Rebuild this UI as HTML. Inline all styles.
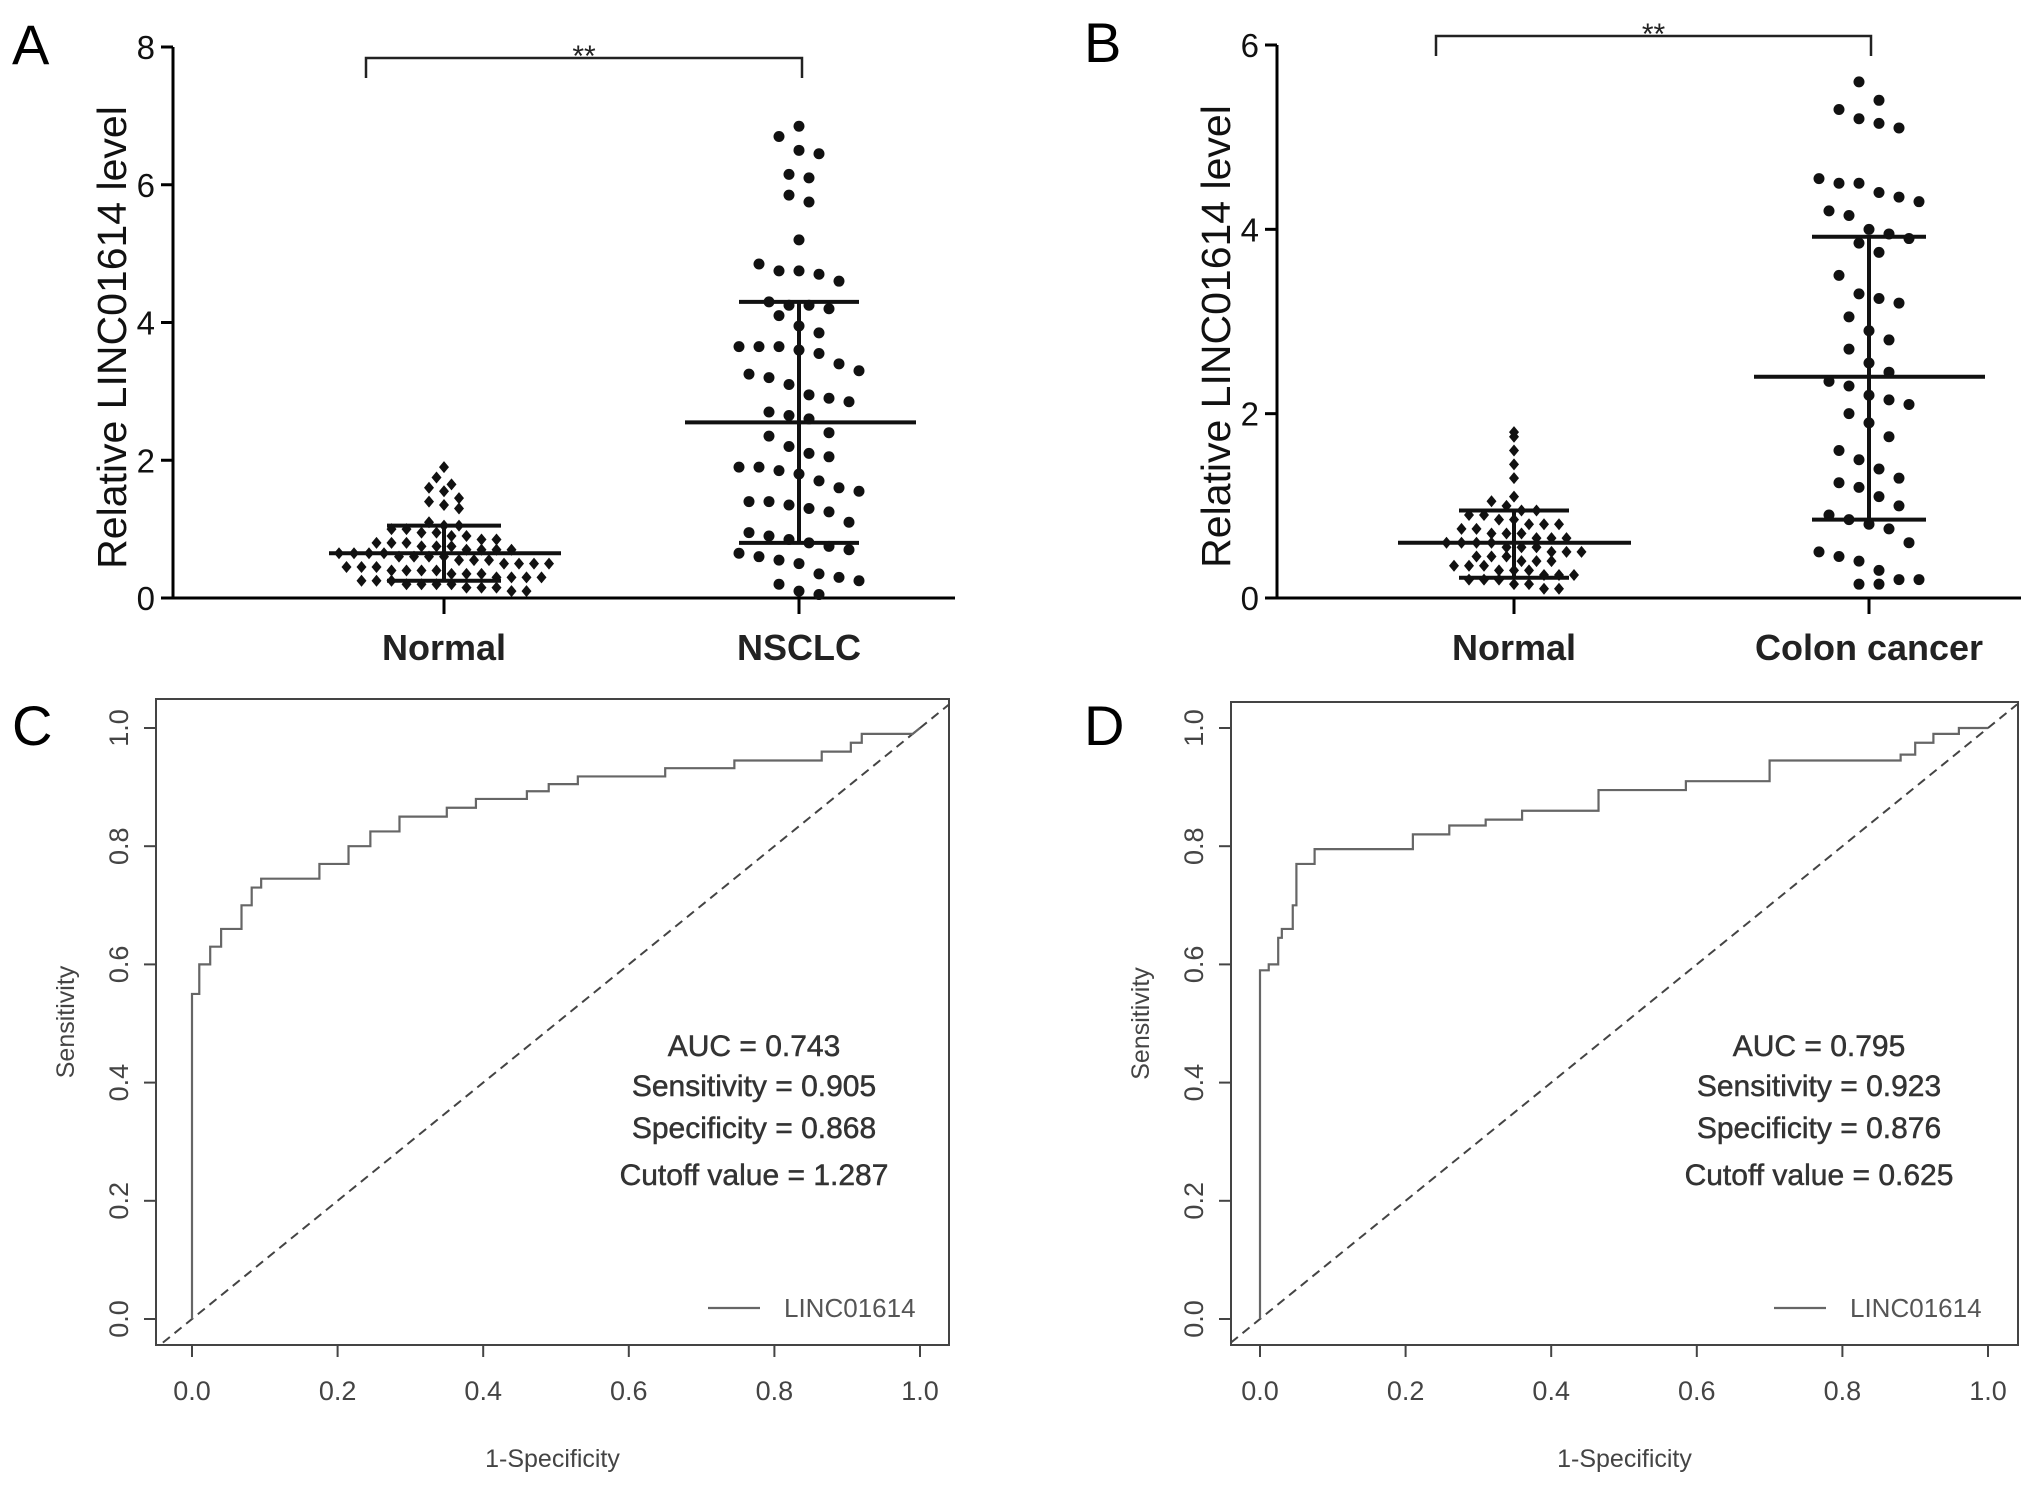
<!DOCTYPE html>
<html><head><meta charset="utf-8"><style>
body{margin:0;background:#fff}
svg{display:block;font-family:"Liberation Sans",Arial,sans-serif}
</style></head><body>
<svg id="fig" width="2031" height="1488" viewBox="0 0 2031 1488" xmlns="http://www.w3.org/2000/svg"></svg>
<script>
// ---- Data: panel A ----
const normalA = [1.9,1.75,1.65,1.6,1.55,1.45,1.4,1.35,1.3,1.1,1.05,1.05,1.0,1.0,0.95,0.95,0.9,0.9,0.85,0.85,0.8,0.8,0.8,0.75,0.75,0.75,0.7,0.7,0.7,0.7,0.65,0.65,0.65,0.65,0.6,0.6,0.6,0.6,0.55,0.55,0.55,0.5,0.5,0.5,0.5,0.45,0.45,0.45,0.4,0.4,0.4,0.4,0.35,0.35,0.35,0.3,0.3,0.3,0.3,0.25,0.25,0.25,0.2,0.2,0.2,0.2,0.15,0.15,0.15,0.1,0.1];
const nsclcA = [6.85,6.7,6.5,6.45,6.15,6.1,5.85,5.75,5.2,4.85,4.75,4.75,4.7,4.6,4.3,4.25,4.25,4.2,4.1,3.95,3.85,3.65,3.65,3.65,3.6,3.55,3.4,3.3,3.25,3.2,3.1,2.95,2.9,2.85,2.7,2.65,2.6,2.4,2.35,2.2,2.1,2.05,1.9,1.9,1.85,1.8,1.7,1.6,1.55,1.4,1.4,1.35,1.3,1.25,1.1,0.95,0.9,0.85,0.8,0.75,0.7,0.65,0.6,0.55,0.5,0.35,0.3,0.25,0.2,0.1,0.05];
const statsA = {normal:[0.65,0.25,1.05], tumor:[2.55,0.8,4.3]};
const ticksA = [0,2,4,6,8];
const groupsA = ["Normal","NSCLC"];
// ---- Data: panel B ----
const normalB = [1.8,1.75,1.6,1.45,1.3,1.1,1.05,1.0,0.95,0.95,0.9,0.9,0.85,0.85,0.8,0.8,0.8,0.75,0.75,0.7,0.7,0.7,0.65,0.65,0.65,0.6,0.6,0.6,0.6,0.55,0.55,0.55,0.5,0.5,0.5,0.45,0.45,0.45,0.4,0.4,0.4,0.35,0.35,0.35,0.3,0.3,0.3,0.25,0.25,0.25,0.2,0.2,0.2,0.15,0.15,0.1,0.1];
const colonB = [5.6,5.4,5.3,5.2,5.15,5.1,4.55,4.5,4.5,4.4,4.35,4.3,4.2,4.15,4.0,3.95,3.9,3.85,3.75,3.5,3.3,3.25,3.2,3.05,2.9,2.8,2.7,2.55,2.45,2.35,2.3,2.2,2.15,2.1,2.0,1.9,1.75,1.6,1.5,1.4,1.3,1.25,1.2,1.1,1.0,0.9,0.85,0.8,0.75,0.6,0.5,0.45,0.4,0.3,0.2,0.2,0.15,0.15];
const statsB = {normal:[0.6,0.22,0.95], tumor:[2.4,0.85,3.92]};
const ticksB = [0,2,4,6];
const groupsB = ["Normal","Colon cancer"];
// ---- Data: ROC C ----
const fprC = [0,0,0.01,0.01,0.025,0.025,0.04,0.04,0.068,0.068,0.082,0.082,0.095,0.095,0.175,0.175,0.215,0.215,0.245,0.245,0.285,0.285,0.35,0.35,0.39,0.39,0.46,0.46,0.49,0.49,0.53,0.53,0.65,0.65,0.745,0.745,0.865,0.865,0.905,0.905,0.92,0.92,0.99,1];
const tprC = [0,0.55,0.55,0.6,0.6,0.63,0.63,0.66,0.66,0.70,0.70,0.73,0.73,0.745,0.745,0.77,0.77,0.8,0.8,0.825,0.825,0.85,0.85,0.865,0.865,0.88,0.88,0.893,0.893,0.905,0.905,0.918,0.918,0.932,0.932,0.945,0.945,0.96,0.96,0.975,0.975,0.99,0.99,1];
const textC = ["AUC = 0.743","Sensitivity = 0.905","Specificity = 0.868","Cutoff value = 1.287"];
// ---- Data: ROC D ----
const fprD = [0,0,0.012,0.012,0.025,0.025,0.03,0.03,0.045,0.045,0.05,0.05,0.075,0.075,0.21,0.21,0.26,0.26,0.31,0.31,0.36,0.36,0.465,0.465,0.585,0.585,0.7,0.7,0.88,0.88,0.9,0.9,0.925,0.925,0.96,0.96,1];
const tprD = [0,0.59,0.59,0.6,0.6,0.645,0.645,0.66,0.66,0.7,0.7,0.77,0.77,0.795,0.795,0.82,0.82,0.835,0.835,0.845,0.845,0.86,0.86,0.895,0.895,0.91,0.91,0.945,0.945,0.955,0.955,0.975,0.975,0.99,0.99,1,1];
const textD = ["AUC = 0.795","Sensitivity = 0.923","Specificity = 0.876","Cutoff value = 0.625"];
const rocTicks = [0,0.2,0.4,0.6,0.8,1.0];

const NS="http://www.w3.org/2000/svg";
const svg=document.getElementById('fig');
function el(tag,attrs,parent,text){const e=document.createElementNS(NS,tag);for(const k in attrs)e.setAttribute(k,attrs[k]);if(text!==undefined)e.textContent=text;(parent||svg).appendChild(e);return e;}

function scatterPanel(o){
  const g=el('g',{});
  
  
  const y=v=>o.y0-(v/o.ymax)*(o.y0-o.yTop);
  const lab=el('text',{x:o.lx,y:o.ly,'font-size':56,fill:'#000'},g,o.letter);
  
  
  const ya=el('line',{x1:o.ax,y1:o.y0,x2:o.ax,y2:o.yTop,stroke:'#000','stroke-width':3},g);
  
  
  const xa=el('line',{x1:o.ax,y1:o.y0,x2:o.axEnd,y2:o.y0,stroke:'#000','stroke-width':3},g);
  
  
  o.ticks.forEach(t=>{
    el('line',{x1:o.ax-12,y1:y(t),x2:o.ax,y2:y(t),stroke:'#000','stroke-width':3},g);
    const tl=el('text',{x:o.ax-18,y:y(t)+12,'font-size':33,'text-anchor':'end',fill:'#111'},g,String(t));
    
    
  });
  const yt=el('text',{x:0,y:0,'font-size':41,'text-anchor':'middle',fill:'#111',transform:`translate(${o.ytx},${(o.y0+o.yTop)/2+15}) rotate(-90)`},g,'Relative LINC01614 level');
  
  
  const cols=[o.cx1,o.cx2];
  [o.d1,o.d2].forEach((data,gi)=>{
    const cx=cols[gi];
    el('line',{x1:cx,y1:o.y0,x2:cx,y2:o.y0+16,stroke:'#000','stroke-width':3},g);
    const gl=el('text',{x:cx,y:o.y0+62,'font-size':36,'font-weight':'bold','text-anchor':'middle',fill:'#222'},g,o.groups[gi]);
    
    
    const binH=gi===0?13:o.tBin;const bins={};
    data.forEach(v=>{const b=Math.round((o.y0-y(v))/binH);(bins[b]=bins[b]||[]).push(v);});
    Object.keys(bins).forEach(b=>{
      const arr=bins[b];const n=arr.length;const sp=gi===0?15:20;
      arr.forEach((v,i)=>{
        const off=(i-(n-1)/2)*sp;const px=cx+off;const py=y(v);
        let m;
        if(gi===0){m=el('path',{d:`M${px} ${py-6}L${px+5} ${py}L${px} ${py+6}L${px-5} ${py}Z`,fill:'#111'},g);}
        else{m=el('circle',{cx:px,cy:py,r:5.5,fill:'#111'},g);}
        
        
      });
    });
    const st=gi===0?o.s1:o.s2;
    const w=o.meanW[gi],cw=o.capW[gi];
    const ml=el('line',{x1:cx-w[0],y1:y(st[0]),x2:cx+w[1],y2:y(st[0]),stroke:'#111','stroke-width':4},g);
    
    
    const eb=el('path',{d:`M${cx} ${y(st[1])}V${y(st[2])}M${cx-cw} ${y(st[1])}H${cx+cw}M${cx-cw} ${y(st[2])}H${cx+cw}`,stroke:'#111','stroke-width':4,fill:'none'},g);
    
    
  });
  const br=el('path',{d:`M${o.bx1} ${o.by+20}V${o.by}H${o.bx2}V${o.by+20}`,stroke:'#222','stroke-width':2.5,fill:'none'},g);
  
  
  const st=el('text',{x:(o.bx1+o.bx2)/2,y:o.by+8,'font-size':30,'text-anchor':'middle',fill:'#222'},g,'**');
  
  
}

scatterPanel({name:'panel-a',letter:'A',lx:12,ly:64,ax:173,axEnd:955,y0:598,yTop:47,ymax:8,ticks:ticksA,ytx:126,tBin:30,
  cx1:444,cx2:799,d1:normalA,d2:nsclcA,s1:statsA.normal,s2:statsA.tumor,groups:groupsA,
  meanW:[[115,117],[114,117]],capW:[57,60],bx1:366,bx2:802,by:58});
scatterPanel({name:'panel-b',letter:'B',lx:1084,ly:62,ax:1277,axEnd:2021,y0:598,yTop:45,ymax:6,ticks:ticksB,ytx:1230,tBin:34,
  cx1:1514,cx2:1869,d1:normalB,d2:colonB,s1:statsB.normal,s2:statsB.tumor,groups:groupsB,
  meanW:[[116,117],[115,116]],capW:[55,57],bx1:1436,bx2:1871,by:36});

function rocPanel(o){
  const g=el('g',{});
  
  
  const X=v=>o.x0+v*(o.x1-o.x0), Y=v=>o.y0-v*(o.y0-o.y1);
  const lab=el('text',{x:o.lx,y:o.ly,'font-size':56,fill:'#000'},g,o.letter);
  
  
  const box=el('rect',{x:o.bl,y:o.bt,width:o.br-o.bl,height:o.bb-o.bt,fill:'none',stroke:'#444','stroke-width':2},g);
  
  
  rocTicks.forEach(t=>{
    el('line',{x1:X(t),y1:o.bb,x2:X(t),y2:o.bb+12,stroke:'#444','stroke-width':2},g);
    const xl=el('text',{x:X(t),y:o.bb+55,'font-size':27,'text-anchor':'middle',fill:'#444'},g,t.toFixed(1));
    
    
    el('line',{x1:o.bl-12,y1:Y(t),x2:o.bl,y2:Y(t),stroke:'#444','stroke-width':2},g);
    const yl=el('text',{x:0,y:0,'font-size':27,'text-anchor':'middle',fill:'#444',transform:`translate(${o.bl-28},${Y(t)}) rotate(-90)`},g,t.toFixed(1));
    
    
  });
  const xt=el('text',{x:(o.bl+o.br)/2,y:o.bb+122,'font-size':25,'text-anchor':'middle',fill:'#444'},g,'1-Specificity');
  
  
  const yt=el('text',{x:0,y:0,'font-size':25,'text-anchor':'middle',fill:'#444',transform:`translate(${o.bl-82},${(o.bt+o.bb)/2}) rotate(-90)`},g,'Sensitivity');
  
  
  const dg=el('line',{x1:X(-0.04),y1:Y(-0.04),x2:X(1.04),y2:Y(1.04),stroke:'#444','stroke-width':2,'stroke-dasharray':'9,6'},g);
  
  
  const pts=o.fpr.map((f,i)=>X(f)+','+Y(o.tpr[i])).join(' ');
  const rl=el('polyline',{points:pts,fill:'none',stroke:'#666','stroke-width':2.2},g);
  
  
  o.text.forEach((t,i)=>{
    const tx=el('text',{x:o.tcx,y:[1056,1096,1138,1185][i],'font-size':30,'text-anchor':'middle',fill:'#333','stroke':'#333','stroke-width':0.5},g,t);
    
    
  });
  const lg=el('line',{x1:o.legX,y1:1308,x2:o.legX+52,y2:1308,stroke:'#666','stroke-width':2.2},g);
  
  
  const lt=el('text',{x:o.legX+76,y:1317,'font-size':26,fill:'#555'},g,'LINC01614');
  
  
}
rocPanel({name:'panel-c',letter:'C',lx:12,ly:745,bl:156,br:949,bt:699,bb:1345,x0:192,x1:920,y0:1319,y1:728,fpr:fprC,tpr:tprC,text:textC,tcx:754,legX:708});
rocPanel({name:'panel-d',letter:'D',lx:1084,ly:745,bl:1231,br:2018,bt:702,bb:1345,x0:1260,x1:1988,y0:1319,y1:728,fpr:fprD,tpr:tprD,text:textD,tcx:1819,legX:1774});
</script>
</body></html>
